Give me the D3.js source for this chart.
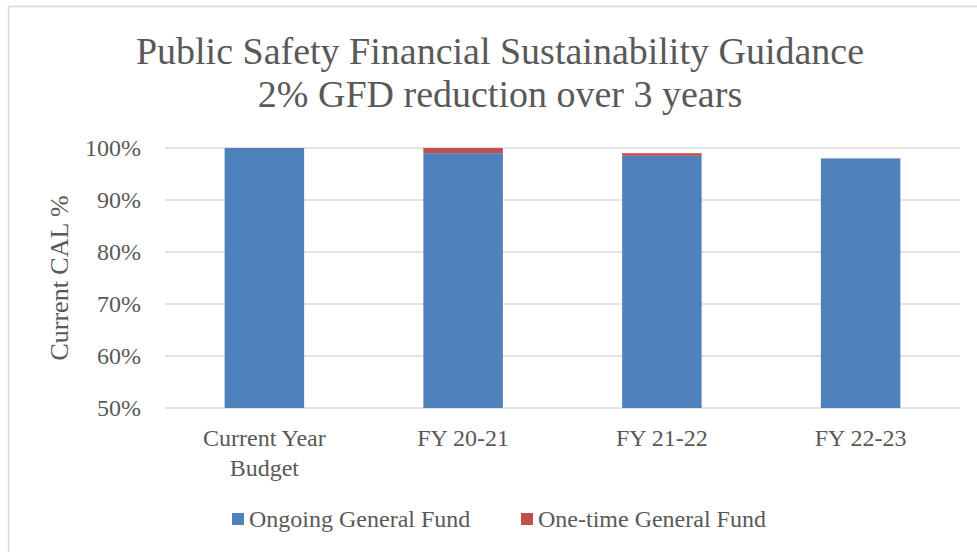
<!DOCTYPE html>
<html>
<head>
<meta charset="utf-8">
<script src="https://cdn.jsdelivr.net/npm/d3@7"></script>
<style>
    body { margin: 0; background: #fff; }
    text { font-family: "Liberation Serif", "DejaVu Serif", serif; fill: #595959; }
</style>
</head>
<body>
<script>
var categories = [["Current Year", "Budget"], ["FY 20-21"], ["FY 21-22"], ["FY 22-23"]],
    ongoing = [100, 99, 98.5, 98],
    oneTime = [0, 1, 0.5, 0],
    seriesNames = ["Ongoing General Fund", "One-time General Fund"],
    seriesColors = ["#4f81bd", "#c0504d"],
    yTicks = [50, 60, 70, 80, 90, 100],
    titleLines = ["Public Safety Financial Sustainability Guidance", "2% GFD reduction over 3 years"];

var width = 977,
    height = 552,
    plotLeft = 165,
    plotRight = 960,
    plotTop = 148,
    plotBottom = 408;

var svg = d3.select("body").append("svg")
            .attr("width", width)
            .attr("height", height);

// chart area border
svg.append("rect")
   .attr("x", 8.5)
   .attr("y", 6.5)
   .attr("width", 980)
   .attr("height", 560)
   .style("fill", "#fff")
   .style("stroke", "#d9d9d9")
   .style("stroke-width", 1.5);

var x = d3.scaleBand()
          .domain(d3.range(categories.length))
          .range([plotLeft, plotRight])
          .paddingInner(0.6)
          .paddingOuter(0.3);

var y = d3.scaleLinear()
          .domain([50, 100])
          .range([plotBottom, plotTop]);

// gridlines
svg.selectAll(".grid")
   .data(yTicks)
   .enter()
   .append("line")
   .attr("class", "grid")
   .attr("x1", plotLeft)
   .attr("x2", plotRight)
   .attr("y1", function(d) {return y(d); })
   .attr("y2", function(d) {return y(d); })
   .style("stroke", "#d9d9d9")
   .style("stroke-width", 1.5);

svg.selectAll(".ytick")
   .data(yTicks)
   .enter()
   .append("text")
   .attr("class", "ytick")
   .attr("x", 141)
   .attr("y", function(d) {return y(d); })
   .attr("dy", "0.35em")
   .attr("text-anchor", "end")
   .style("font-size", "24px")
   .text(function(d) {return d + "%"; });

// stacked bars
var rows = categories.map(function(c, i) {
    return {i : i, ongoing : ongoing[i], oneTime : oneTime[i]};
});

var barGroups = svg.selectAll(".bar")
                   .data(rows)
                   .enter()
                   .append("g")
                   .attr("class", "bar");

barGroups.append("rect")
         .attr("x", function(d) {return x(d.i); })
         .attr("width", x.bandwidth())
         .attr("y", function(d) {return y(d.ongoing); })
         .attr("height", function(d) {return y(50) - y(d.ongoing); })
         .style("fill", seriesColors[0]);

barGroups.append("rect")
         .attr("x", function(d) {return x(d.i); })
         .attr("width", x.bandwidth())
         .attr("y", function(d) {return y(d.ongoing + d.oneTime); })
         .attr("height", function(d) {return y(d.ongoing) - y(d.ongoing + d.oneTime); })
         .style("fill", seriesColors[1]);

// category labels
var catLabels = svg.selectAll(".cat")
                   .data(categories)
                   .enter()
                   .append("text")
                   .attr("class", "cat")
                   .attr("text-anchor", "middle")
                   .style("font-size", "24px");

catLabels.selectAll("tspan")
         .data(function(d, i) {return d.map(function(t) {return {t : t, i : i}; }); })
         .enter()
         .append("tspan")
         .attr("x", function(d) {return x(d.i) + x.bandwidth() / 2; })
         .attr("y", function(d, j) {return 446 + j * 30; })
         .text(function(d) {return d.t; });

// y axis title
svg.append("text")
   .attr("transform", "translate(68," + ((plotTop + plotBottom) / 2) + ") rotate(-90)")
   .attr("text-anchor", "middle")
   .style("font-size", "26px")
   .text("Current CAL %");

// title
svg.selectAll(".title")
   .data(titleLines)
   .enter()
   .append("text")
   .attr("class", "title")
   .attr("x", 500)
   .attr("y", function(d, i) {return 64 + i * 43; })
   .attr("text-anchor", "middle")
   .style("font-size", "38px")
   .text(function(d) {return d; });

// legend
var legendX = [232, 521];
var legend = svg.selectAll(".legend")
                .data(seriesNames)
                .enter()
                .append("g")
                .attr("class", "legend")
                .attr("transform", function(d, i) {return "translate(" + legendX[i] + ",513)"; });

legend.append("rect")
      .attr("width", 12)
      .attr("height", 12)
      .style("fill", function(d, i) {return seriesColors[i]; });

legend.append("text")
      .attr("x", 17)
      .attr("y", 14)
      .style("font-size", "24px")
      .text(function(d) {return d; });
</script>
</body>
</html>
